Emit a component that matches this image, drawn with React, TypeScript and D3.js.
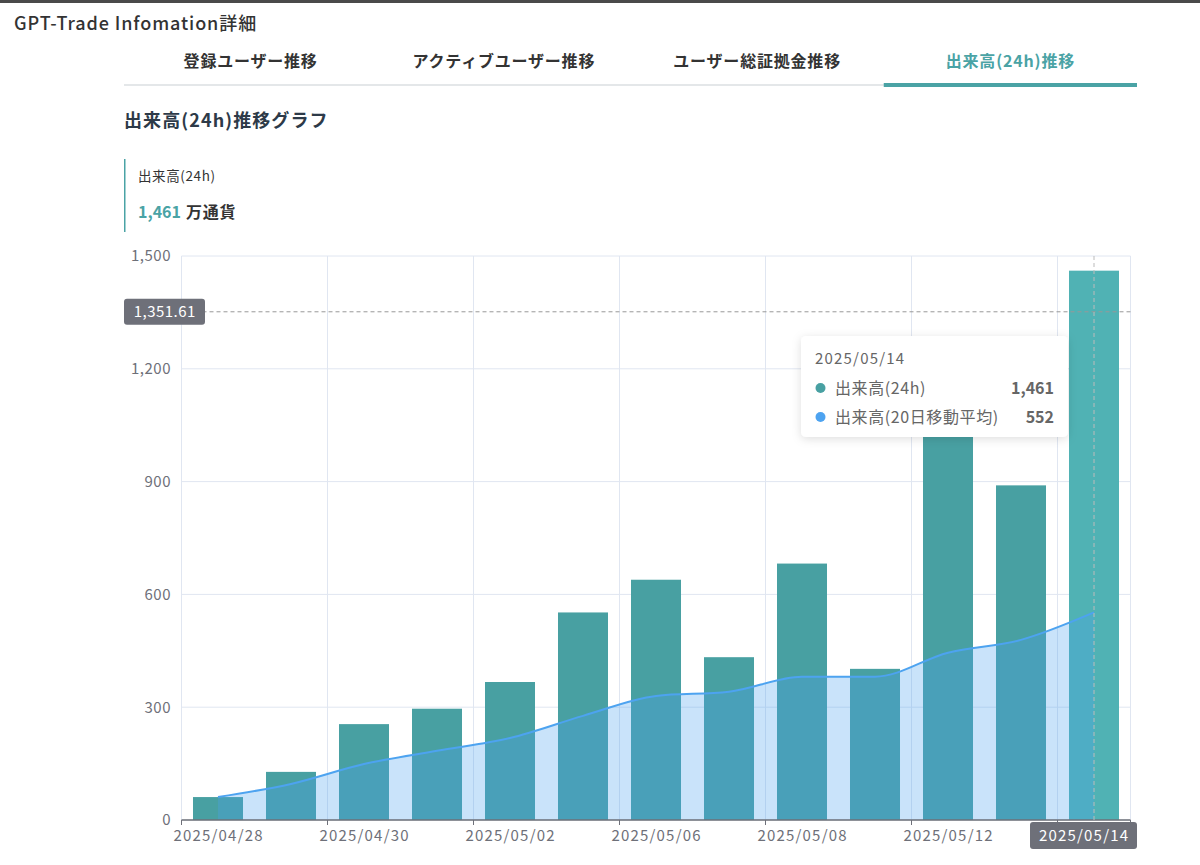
import React from "react";
import * as d3 from "d3";

const dates = [
  "2025/04/28", "2025/04/29", "2025/04/30", "2025/05/01", "2025/05/02",
  "2025/05/05", "2025/05/06", "2025/05/07", "2025/05/08", "2025/05/09",
  "2025/05/12", "2025/05/13", "2025/05/14",
];
const volume24h = [61, 128, 255, 296, 367, 552, 639, 433, 682, 402, 1060, 890, 1461];
const movingAvg20 = [61, 96, 149, 184, 218, 277, 330, 341, 381, 381, 445, 479, 552];
const yTicks = [0, 300, 600, 900, 1200, 1500];
const tabs = ["登録ユーザー推移", "アクティブユーザー推移", "ユーザー総証拠金推移", "出来高(24h)推移"];
const activeTab = 3;
const pointerValue = 1351.61;
const hoverIndex = 12;
const seriesNames = ["出来高(24h)", "出来高(20日移動平均)"];

const FONT = "'Noto Sans CJK JP', 'Noto Sans', sans-serif";

export default function App() {
  const left = 181.5, right = 1130.5, top = 256, bottom = 820;
  const x = d3.scaleBand<string>().domain(dates).range([left, right]).paddingInner(0.315).paddingOuter(0.1575);
  const step = x.step();
  const bw = x.bandwidth();
  const cx = (d: string) => (x(d) as number) + bw / 2;
  const y = d3.scaleLinear().domain([0, 1500]).range([bottom, top]);
  const fmt = d3.format(",");

  const pts = dates.map((d, i) => ({ d, v: movingAvg20[i] }));
  const lineGen = d3.line<{ d: string; v: number }>().x(p => cx(p.d)).y(p => y(p.v)).curve(d3.curveMonotoneX);
  const areaGen = d3.area<{ d: string; v: number }>().x(p => cx(p.d)).y0(y(0)).y1(p => y(p.v)).curve(d3.curveMonotoneX);

  const boundaries: number[] = [];
  for (let i = 0; i < dates.length; i += 2) boundaries.push(left + i * step);
  boundaries.push(right);

  const tabLeft = 124, tabRight = 1137;
  const tabW = (tabRight - tabLeft) / tabs.length;

  const hx = cx(dates[hoverIndex]);
  const py = y(pointerValue);
  const axisText = { fontSize: 15, letterSpacing: 1.2 };

  return (
    <svg width={1200} height={865} style={{ position: "absolute", left: 0, top: 0, fontFamily: FONT }}>
      <defs>
        <filter id="shadow" x="-20%" y="-30%" width="140%" height="160%">
          <feDropShadow dx="0" dy="2" stdDeviation="5" floodColor="#000" floodOpacity="0.13" />
        </filter>
      </defs>
      <rect x={0} y={0} width={1200} height={865} fill="#fff" />
      <rect x={0} y={0} width={1200} height={3} fill="#4a4a4a" />
      <text x={14} y={30} fontSize={18} fontWeight={500} letterSpacing={0.9} fill="#333">GPT-Trade Infomation詳細</text>

      {tabs.map((t, i) => (
        <text key={t} x={tabLeft + tabW * (i + 0.5)} y={67} textAnchor="middle" fontSize={16} letterSpacing={0.8}
          fontWeight={700} fill={i === activeTab ? "#4aa3a5" : "#333"}>{t}</text>
      ))}
      <rect x={tabLeft} y={84} width={tabRight - tabLeft} height={2} fill="#e4e7e9" />
      <rect x={tabLeft + tabW * activeTab} y={83} width={tabW} height={4} fill="#4aa3a5" />

      <text x={124} y={127} fontSize={18} fontWeight={700} letterSpacing={1.1} fill="#2d3a48">出来高(24h)推移グラフ</text>
      <rect x={124} y={159} width={1.5} height={73} fill="#4aa3a5" />
      <text x={138} y={181} fontSize={13.5} letterSpacing={0.6} fill="#333">出来高(24h)</text>
      <text x={138} y={218} fontSize={16} fontWeight={700}>
        <tspan fill="#4aa3a5">1,461</tspan>
        <tspan fill="#333" dx={5} letterSpacing={0.8}>万通貨</tspan>
      </text>

      {/* grid */}
      {yTicks.map(t => (
        <line key={t} x1={left} x2={right} y1={y(t)} y2={y(t)} stroke="#e0e6f1" strokeWidth={1} />
      ))}
      {boundaries.map((b, i) => (
        <line key={i} x1={b} x2={b} y1={top} y2={bottom} stroke="#e0e6f1" strokeWidth={1} />
      ))}

      {/* bars */}
      {dates.map((d, i) => (
        <rect key={d} x={x(d)} y={y(volume24h[i])} width={bw} height={y(0) - y(volume24h[i])}
          fill={i === hoverIndex ? "#50b2b4" : "#48a0a2"} />
      ))}

      {/* moving average area + line */}
      <path d={areaGen(pts) || ""} fill="#4da3f0" fillOpacity={0.3} />
      <path d={lineGen(pts) || ""} fill="none" stroke="#4da3f0" strokeWidth={2} />

      {/* axis */}
      <line x1={left} x2={right} y1={bottom} y2={bottom} stroke="#6e7079" strokeWidth={1.5} />
      {boundaries.map((b, i) => (
        <line key={i} x1={b} x2={b} y1={bottom} y2={bottom + 5} stroke="#6e7079" strokeWidth={1} />
      ))}
      {yTicks.map(t => (
        <text key={t} x={171} y={y(t)} dy="0.36em" textAnchor="end" fontSize={15} letterSpacing={0.5} fill="#6e7079">{fmt(t)}</text>
      ))}
      {dates.map((d, i) => i % 2 === 0 && i !== hoverIndex ? (
        <text key={d} x={cx(d) + 0.6} y={841} textAnchor="middle" {...axisText} fill="#6e7079">{d}</text>
      ) : null)}

      {/* cross pointer */}
      <line x1={left} x2={right} y1={py} y2={py} stroke="#999" strokeDasharray="4 3" strokeWidth={1} />
      <line x1={hx} x2={hx} y1={top} y2={bottom} stroke="#bbb" strokeDasharray="4 3" strokeWidth={1} />
      <rect x={124} y={py - 13} width={81} height={26} rx={3} fill="#6e7079" />
      <text x={164.8} y={py} dy="0.36em" textAnchor="middle" fontSize={15} letterSpacing={0.5} fill="#fff">{d3.format(",.2f")(pointerValue)}</text>
      <rect x={hx - 64} y={822} width={107} height={27} rx={3} fill="#6e7079" />
      <text x={hx - 9.9} y={841} textAnchor="middle" {...axisText} fill="#fff">{dates[hoverIndex]}</text>

      {/* tooltip */}
      <g>
        <rect x={801} y={336} width={267} height={101} rx={5} fill="#fff" filter="url(#shadow)" />
        <text x={815} y={364} fontSize={15} letterSpacing={1.2} fill="#666">{dates[hoverIndex]}</text>
        <circle cx={820.5} cy={388} r={5} fill="#48a0a2" />
        <text x={835} y={394} fontSize={16} letterSpacing={0.6} fill="#666">{seriesNames[0]}</text>
        <text x={1054} y={394} textAnchor="end" fontSize={16} fontWeight={700} fill="#666">{fmt(volume24h[hoverIndex])}</text>
        <circle cx={820.5} cy={417} r={5} fill="#4da3f0" />
        <text x={835} y={423} fontSize={16} letterSpacing={0.6} fill="#666">{seriesNames[1]}</text>
        <text x={1054} y={423} textAnchor="end" fontSize={16} fontWeight={700} fill="#666">{fmt(movingAvg20[hoverIndex])}</text>
      </g>
    </svg>
  );
}
